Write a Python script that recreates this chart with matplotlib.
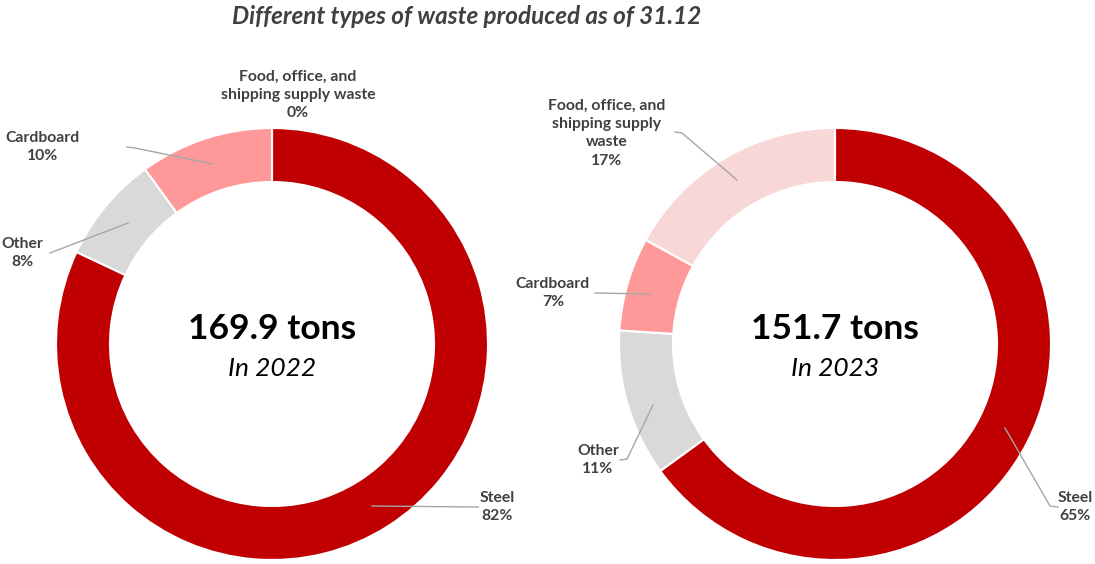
import matplotlib
import matplotlib.pyplot as plt

matplotlib.use('Agg')

plt.rcParams['font.family'] = ['Lato', 'DejaVu Sans']

categories = ['Steel', 'Other', 'Cardboard', 'Food, office, and shipping supply waste']
share_2022 = [82, 8, 10, 0]
share_2023 = [65, 11, 7, 17]
totals = [169.9, 151.7]
years = ['2022', '2023']

colors = ['#C00000', '#D9D9D9', '#FF9999', '#F8D7D7']
line_color = '#A6A6A6'
text_color = '#404040'

W, H = 1095, 564


def px(x, y):
    # pixel coords (top-left origin) -> axes data coords
    return x, H - y


# label text, label position, leader line start and end (pixels)
labels_2022 = [
    ('Steel\n{}%', (497, 507), [(478, 507), (372, 506)]),
    ('Other\n{}%', (22, 253), [(50, 253), (128, 223)]),
    ('Cardboard\n{}%', (43, 147), [(127, 147), (135, 148), (213, 164)]),
    ('Food, office, and\nshipping supply waste\n{}%', (298, 95), None),
]
labels_2023 = [
    ('Steel\n{}%', (1075, 507), [(1058, 507), (1050, 506), (1005, 428)]),
    ('Other\n{}%', (598, 460), [(620, 460), (627, 459), (653, 405)]),
    ('Cardboard\n{}%', (553, 293), [(595, 293), (650, 294)]),
    ('Food, office, and\nshipping supply\nwaste\n{}%', (607, 133), [(675, 132), (682, 133), (737, 180)]),
]


def draw_donut(ax, values, center, radius, total, year, labels):
    ax.pie(values, colors=colors, startangle=90, counterclock=False,
           center=px(*center), radius=radius,
           wedgeprops=dict(width=radius * 0.25, edgecolor='white', linewidth=1.5))

    for (fmt, pos, line), val in zip(labels, values):
        if line:
            xs = [px(*p)[0] for p in line]
            ys = [px(*p)[1] for p in line]
            ax.plot(xs, ys, color=line_color, lw=1, zorder=5)
        ax.text(*px(*pos), fmt.format(val), ha='center', va='center',
                fontsize=11.3, fontweight='bold', color=text_color, linespacing=1.4)

    cx, cy = center
    ax.text(*px(cx, cy - 15), f'{total} tons', ha='center', va='center',
            fontsize=25.5, fontweight='bold', color='black')
    ax.text(*px(cx, cy + 25), f'In {year}', ha='center', va='center',
            fontsize=19, fontstyle='italic', color='black')


fig = plt.figure(figsize=(W / 100, H / 100), dpi=100)
ax = fig.add_axes([0, 0, 1, 1])

draw_donut(ax, share_2022, (272, 344), 216, totals[0], years[0], labels_2022)
draw_donut(ax, share_2023, (835, 344), 216, totals[1], years[1], labels_2023)

ax.text(*px(467, 17), 'Different types of waste produced as of 31.12', ha='center',
        va='center', fontsize=17.5, fontweight='bold', fontstyle='italic', color=text_color)

ax.set_xlim(0, W)
ax.set_ylim(0, H)
ax.axis('off')

plt.savefig('out.png', dpi=100)
plt.close()
